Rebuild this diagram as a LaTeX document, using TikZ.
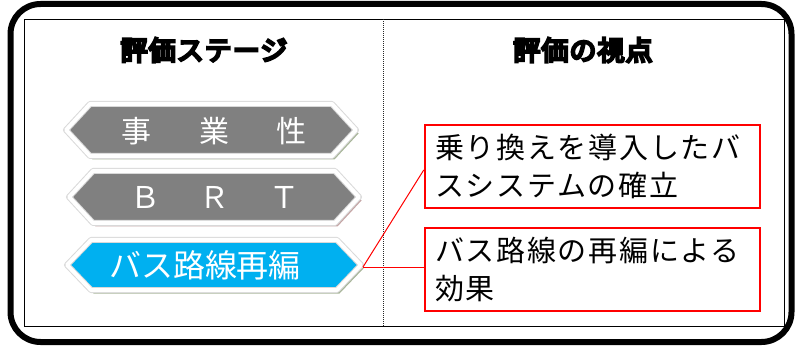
\documentclass[tikz,border=0pt]{standalone}
\usepackage{fontspec}
\newfontfamily\jp{Noto Sans CJK JP}
\newfontfamily\jpls[LetterSpace=6]{Noto Sans CJK JP}
\newfontfamily\jpb[FakeBold=9,LetterSpace=4]{Noto Sans CJK JP}
\definecolor{hexgray}{HTML}{808080}
\definecolor{hexblue}{HTML}{00B0F0}
\definecolor{shgreen}{HTML}{A7B598}
\definecolor{shpink}{HTML}{C4A4A4}
\definecolor{rimgray}{HTML}{D9D9D9}
\tikzset{
  heading/.style={font=\jpb\fontsize{27}{30}\selectfont, inner sep=0pt},
  hextext/.style={text=white, inner sep=0pt},
  viewbox/.style={draw=red, line width=2.5pt, minimum width=335pt, minimum height=83pt,
    text width=315pt, inner xsep=10pt, align=left, font=\jpls\fontsize{29}{38}\selectfont},
  redline/.style={draw=red, line width=1pt},
}
\newcommand{\hexpath}[5]{(#1,#3) -- ({#1+#5},{#3-#4}) -- ({#2-#5},{#3-#4}) -- (#2,#3) -- ({#2-#5},{#3+#4}) -- ({#1+#5},{#3+#4}) -- cycle}
\newcommand{\hexagon}[7]{%
  \fill[#7, shift={(2.5pt,-3.5pt)}] \hexpath{#1}{#2}{#3}{#4}{#5};
  \draw[line width=6pt, rimgray, line join=round, fill=#6] \hexpath{#1}{#2}{#3}{#4}{#5};
  \draw[line width=4pt, white, line join=round] \hexpath{#1}{#2}{#3}{#4}{#5};
}
\begin{document}
\begin{tikzpicture}[x=1pt,y=-1pt]
\useasboundingbox (0,0) rectangle (796,350);
% frames
\draw[line width=6pt, rounded corners=30pt] (10.5,4) rectangle (791.5,342);
\draw[line width=0.8pt] (24,19) rectangle (784,326);
\draw[line width=1pt, black!85, densely dotted] (383,19) -- (383,326);
% headings
\node[heading] (hl) at (204,50) {評価ステージ};
\node[heading] (hr) at (583,50) {評価の視点};
% hexagons
\hexagon{66}{356}{130}{26}{24}{hexgray}{shgreen}
\hexagon{69}{359}{197}{26}{24}{hexgray}{shpink}
\hexagon{67}{361}{265}{25}{24}{hexblue}{shgreen}
\node[hextext, font=\jp\fontsize{30}{30}\selectfont] (h1) at (214,131) {事\hspace{48pt}業\hspace{48pt}性};
\node[hextext, font=\jp\fontsize{30}{30}\selectfont] (h2) at (215,197) {Ｂ\hspace{40pt}Ｒ\hspace{40pt}Ｔ};
\node[hextext, font=\jp\fontsize{32}{32}\selectfont] (h3) at (205,265) {バス路線再編};
\coordinate (h3tip) at (363,267);
% boxes
\node[viewbox] (b1) at (592.5,166.5) {乗り換えを導入したバ\\スシステムの確立};
\node[viewbox] (b2) at (592.5,269.5) {バス路線の再編による\\効果};
% connectors
\draw[redline] (h3tip) -- ([yshift=-3.5pt]b1.west);
\draw[redline] (h3tip) -- (h3tip -| b2.west);
\end{tikzpicture}
\end{document}
